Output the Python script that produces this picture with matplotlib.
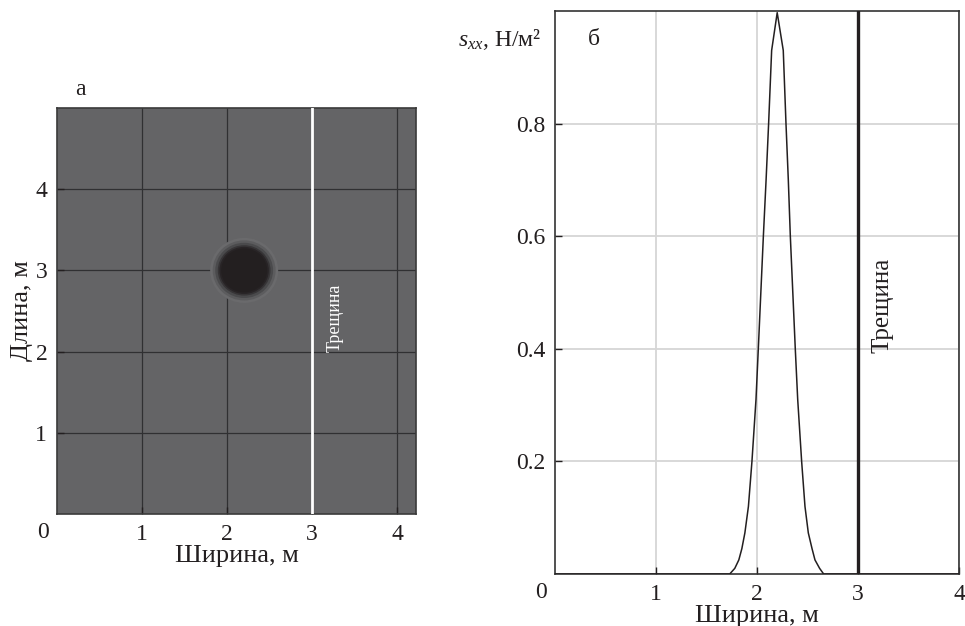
import numpy as np
import matplotlib
matplotlib.use("Agg")
import matplotlib.pyplot as plt
from matplotlib.patches import Circle

plt.rcParams['font.family'] = ['Liberation Serif', 'DejaVu Serif']
plt.rcParams['mathtext.fontset'] = 'custom'
plt.rcParams['mathtext.rm'] = 'Liberation Serif'
plt.rcParams['mathtext.it'] = 'Liberation Serif:italic'

ink = '#231f20'

# поле напряжений (а): положение включения и профиль затемнения
blob_x, blob_y = 2.2, 3.0
blob_r = [0.40, 0.37, 0.34, 0.31, 0.29, 0.27]
blob_gray = ['#6a6a6c', '#5c5c5e', '#4a4a4c', '#363436', '#282426', '#231f20']
crack_x = 3.0

# профиль s_xx вдоль ширины (б)
width_m = [0.0, 1.50, 1.73, 1.78, 1.82, 1.85, 1.88, 1.915, 1.95, 1.99, 2.013,
           2.063, 2.09, 2.115, 2.145, 2.20, 2.26, 2.287, 2.31, 2.33, 2.379,
           2.403, 2.442, 2.475, 2.508, 2.545, 2.574, 2.62, 2.66, 3.0, 4.0]
sxx = [0.0, 0.0, 0.0, 0.01, 0.025, 0.045, 0.073, 0.12, 0.2, 0.31, 0.4,
       0.6, 0.7, 0.8, 0.93, 0.997, 0.93, 0.8, 0.7, 0.6, 0.4,
       0.31, 0.2, 0.12, 0.073, 0.045, 0.025, 0.01, 0.0, 0.0, 0.0]

fig = plt.figure(figsize=(9.65, 6.26), dpi=100)

# ---- а ----
ax1 = fig.add_axes([57 / 965, 112 / 626, 359 / 965, 406 / 626])
ax1.set_facecolor('#646466')
ax1.set_xlim(0, 4.22)
ax1.set_ylim(0, 5)
for r, g in zip(blob_r, blob_gray):
    ax1.add_patch(Circle((blob_x, blob_y), r, color=g, lw=0, zorder=2))
ax1.set_xticks([1, 2, 3, 4])
ax1.set_yticks([1, 2, 3, 4])
ax1.grid(True, color='#303032', lw=0.9, zorder=1)
ax1.set_axisbelow(True)
ax1.axvline(crack_x, color='white', lw=2.0, zorder=3)
ax1.text(crack_x + 0.27, 2.0, 'Трещина', color='white', rotation=90,
         ha='center', va='bottom', fontsize=13, zorder=4)
ax1.tick_params(direction='in', length=5, width=1, color=ink, labelcolor=ink,
                labelsize=17, pad=7)
for s in ax1.spines.values():
    s.set_color('#3a3a3a')
    s.set_linewidth(1.2)
ax1.set_xlabel('Ширина, м', fontsize=19, color=ink, labelpad=0)
ax1.set_ylabel('Длина, м', fontsize=19, color=ink, labelpad=2)
ax1.annotate('0', xy=(0, 0), xycoords='axes fraction', xytext=(-14, -18),
             textcoords='offset pixels', ha='center', va='center',
             fontsize=17, color=ink)
ax1.text(0.065, 1.045, 'а', transform=ax1.transAxes, fontsize=17, color=ink,
         ha='center', va='center')

# ---- б ----
ax2 = fig.add_axes([555 / 965, 52 / 626, 404 / 965, 563 / 626])
ax2.plot(width_m, sxx, color=ink, lw=1.1, zorder=3)
ax2.axvline(crack_x, color=ink, lw=2.4, zorder=4)
ax2.set_xlim(0, 4)
ax2.set_ylim(0, 1)
ax2.set_xticks([1, 2, 3, 4])
ax2.set_yticks([0.2, 0.4, 0.6, 0.8])
ax2.set_yticklabels(['0.2', '0.4', '0.6', '0.8'])
ax2.grid(True, color='#d6d6d6', lw=1.3, zorder=1)
ax2.set_axisbelow(True)
ax2.tick_params(direction='in', length=5, width=1, color=ink, labelcolor=ink,
                labelsize=17, pad=7)
for s in ax2.spines.values():
    s.set_color('#333333')
    s.set_linewidth(1.2)
ax2.text(crack_x + 0.24, 0.478, 'Трещина', color=ink, rotation=90,
         ha='center', va='center', fontsize=18, zorder=5)
ax2.set_xlabel('Ширина, м', fontsize=19, color=ink, labelpad=0)
ax2.annotate('0', xy=(0, 0), xycoords='axes fraction', xytext=(-14, -18),
             textcoords='offset pixels', ha='center', va='center',
             fontsize=17, color=ink)
ax2.text(-0.035, 0.95, '$s_{xx}$, Н/м²', transform=ax2.transAxes, fontsize=17,
         color=ink, ha='right', va='center')
ax2.text(0.097, 0.95, 'б', transform=ax2.transAxes, fontsize=17, color=ink,
         ha='center', va='center')

fig.savefig('out.png', dpi=100)
